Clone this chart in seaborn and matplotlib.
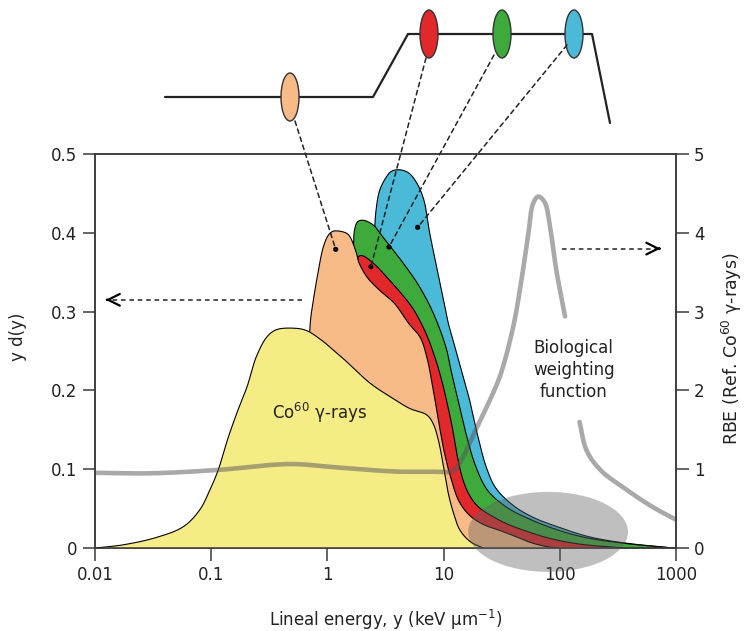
import numpy as np
import matplotlib
matplotlib.use("Agg")
import matplotlib.pyplot as plt
from matplotlib.patches import Ellipse, ConnectionPatch
from matplotlib.ticker import FixedLocator, FixedFormatter, NullLocator
import seaborn as sns

# ---- microdosimetric spectra: lineal energy y (keV/um) vs y d(y) ----
cobalt_y = [0.01, 0.0174, 0.0339, 0.0575, 0.0794, 0.0977, 0.115, 0.135, 0.166, 0.204,
            0.245, 0.302, 0.363, 0.513, 0.661, 0.923, 1.05, 1.38, 1.55, 2.34, 3.47,
            5.13, 7.16, 8.13, 9.02, 10.0, 11.0, 12.2, 13.8, 17.0, 21.9]
cobalt_d = [0.0, 0.004, 0.0135, 0.027, 0.048, 0.074, 0.099, 0.133, 0.171, 0.205,
            0.243, 0.268, 0.277, 0.279, 0.276, 0.262, 0.255, 0.240, 0.233, 0.209, 0.192,
            0.177, 0.169, 0.158, 0.137, 0.103, 0.069, 0.044, 0.023, 0.008, 0.0]

entrance_y = [0.692, 0.708, 0.759, 0.832, 0.923, 1.02, 1.12, 1.29, 1.48, 1.58, 1.66,
              1.78, 1.86, 2.19, 2.82, 3.80, 5.01, 6.31, 7.24, 7.94, 8.51, 9.33, 10.2,
              11.5, 13.5, 16.6, 21.9, 30.9, 42.7, 58.9, 83.2, 100.0]
entrance_d = [0.0, 0.28, 0.315, 0.35, 0.382, 0.397, 0.402, 0.402, 0.399, 0.394, 0.387,
              0.374, 0.363, 0.344, 0.327, 0.31, 0.285, 0.267, 0.24, 0.21, 0.185, 0.15, 0.12,
              0.09, 0.06, 0.042, 0.03, 0.022, 0.014, 0.006, 0.001, 0.0]

proximal_y = [1.795, 1.80, 1.86, 2.00, 2.51, 3.24, 4.27, 5.50, 7.08, 8.51, 9.55, 10.7,
              12.0, 13.2, 14.8, 17.0, 20.0, 25.1, 34.7, 52.5, 83.2, 148.0, 355.0]
proximal_d = [0.0, 0.36, 0.370, 0.371, 0.361, 0.344, 0.324, 0.303, 0.272, 0.24, 0.215,
              0.185, 0.15, 0.115, 0.085, 0.065, 0.052, 0.042, 0.031, 0.021, 0.012, 0.005, 0.0]

middle_y = [1.675, 1.68, 1.72, 1.82, 2.00, 2.24, 2.57, 2.82, 3.47, 4.47, 5.89, 7.59,
            9.33, 10.7, 11.5, 13.2, 15.8, 19.1, 24.0, 34.7, 52.5, 87.1, 158.0, 355.0, 955.0]
middle_d = [0.0, 0.385, 0.405, 0.414, 0.416, 0.414, 0.408, 0.40, 0.383, 0.362, 0.337,
            0.308, 0.277, 0.25, 0.228, 0.19, 0.142, 0.102, 0.073, 0.052, 0.038, 0.025,
            0.014, 0.006, 0.0]

distal_y = [2.535, 2.55, 2.63, 2.82, 3.16, 3.55, 4.17, 5.01, 5.89, 6.76, 7.59, 8.71,
            10.0, 11.0, 12.0, 14.1, 16.6, 19.5, 23.4, 28.2, 39.8, 58.9, 100.0, 182.0,
            380.0, 955.0]
distal_d = [0.0, 0.40, 0.43, 0.454, 0.469, 0.478, 0.48, 0.476, 0.463, 0.442, 0.40, 0.357,
            0.315, 0.285, 0.265, 0.228, 0.19, 0.145, 0.102, 0.076, 0.054, 0.039, 0.026,
            0.014, 0.006, 0.0]

# ---- biological weighting function (RBE, right axis) ----
rbe_y_low = [0.01, 0.0295, 0.112, 0.479, 1.05, 1.55, 3.98, 7.59, 11.4, 12.6, 14.8, 17.0,
             19.5, 25.1, 30.9, 39.8, 46.8, 53.7, 58.9, 65.3, 74.1, 83.2, 93.3, 111.0]
rbe_low = [0.955, 0.948, 0.99, 1.066, 1.03, 1.01, 0.97, 0.97, 0.97, 1.0, 1.16, 1.35,
           1.54, 1.88, 2.2, 2.81, 3.40, 3.99, 4.37, 4.46, 4.39, 4.04, 3.53, 2.94]
rbe_y_high = [148.0, 170.0, 224.0, 376.0, 631.0, 1000.0]
rbe_high = [1.60, 1.24, 0.99, 0.74, 0.52, 0.36]

# sampling points marked on the spectra
probe_y = [1.18, 2.37, 3.39, 5.98]
probe_d = [0.379, 0.357, 0.382, 0.407]

# ---- beam depth-dose sketch above the plot (figure pixel frame) ----
profile_px = [165, 373, 408, 592, 610]
profile_py = [97, 97, 34, 34, 123]
probe_mark_x = [290, 429, 502, 574]
probe_mark_y = [97, 34, 34, 34]
probe_link_x = [295, 426, 494, 567]
probe_link_y = [121, 58, 55, 45]

colors = {"cobalt": "#f6ec86", "entrance": "#f8ba87", "proximal": "#e1282b",
          "middle": "#3eaa3c", "distal": "#4bbad9"}
probe_colors = [colors["entrance"], colors["proximal"], colors["middle"], colors["distal"]]


def spline_path(xs, vs, yscale, per_seg=14):
    """Centripetal Catmull-Rom path through traced points (log-x plane)."""
    p = np.column_stack([np.log10(xs), np.asarray(vs, float) * yscale])
    p = np.vstack([2 * p[0] - p[1], p, 2 * p[-1] - p[-2]])
    out = []
    for i in range(1, len(p) - 2):
        p0, p1, p2, p3 = p[i - 1], p[i], p[i + 1], p[i + 2]
        t0 = 0.0
        t1 = t0 + max(np.linalg.norm(p1 - p0), 1e-6) ** 0.5
        t2 = t1 + max(np.linalg.norm(p2 - p1), 1e-6) ** 0.5
        t3 = t2 + max(np.linalg.norm(p3 - p2), 1e-6) ** 0.5
        for t in np.linspace(t1, t2, per_seg, endpoint=False):
            a1 = (t1 - t) / (t1 - t0) * p0 + (t - t0) / (t1 - t0) * p1
            a2 = (t2 - t) / (t2 - t1) * p1 + (t - t1) / (t2 - t1) * p2
            a3 = (t3 - t) / (t3 - t2) * p2 + (t - t2) / (t3 - t2) * p3
            b1 = (t2 - t) / (t2 - t0) * a1 + (t - t0) / (t2 - t0) * a2
            b2 = (t3 - t) / (t3 - t1) * a2 + (t - t1) / (t3 - t1) * a3
            out.append((t2 - t) / (t2 - t1) * b1 + (t - t1) / (t2 - t1) * b2)
    out.append(p[-2])
    out = np.array(out)
    return 10 ** out[:, 0], np.clip(out[:, 1] / yscale, 0, None)


sns.set_theme(style="ticks")
plt.rcParams["font.family"] = ["DejaVu Sans"]
plt.rcParams.update({
    "axes.edgecolor": "#3a3a3a", "axes.linewidth": 1.1,
    "xtick.color": "#3a3a3a", "ytick.color": "#3a3a3a",
    "xtick.labelcolor": "#222222", "ytick.labelcolor": "#222222",
    "font.size": 12,
})

fig = plt.figure(figsize=(7.46, 6.31), dpi=100)
ax = fig.add_axes([0.1273, 0.1315, 0.7788, 0.6244])
ax.set_xscale("log")
ax.set_xlim(0.01, 1000)
ax.set_ylim(0, 0.5)

spectra = [
    (distal_y, distal_d, colors["distal"], 1),
    (middle_y, middle_d, colors["middle"], 2),
    (proximal_y, proximal_d, colors["proximal"], 3),
    (entrance_y, entrance_d, colors["entrance"], 4),
    (cobalt_y, cobalt_d, colors["cobalt"], 5),
]
for xs, ds, col, z in spectra:
    sx, sd = spline_path(xs, ds, 6.78)
    ax.fill(np.r_[sx, sx[-1], sx[0]], np.r_[sd, 0, 0], facecolor=col,
            edgecolor="none", zorder=z)
    sns.lineplot(x=sx, y=sd, ax=ax, color="black", lw=0.8, zorder=z + 0.5,
                 estimator=None, sort=False)

sns.scatterplot(x=probe_y, y=probe_d, ax=ax, color="black", s=14, zorder=9,
                edgecolor="none")

ax.text(0.863, 0.171, "Co$^{60}$ γ-rays", ha="center", va="center", fontsize=12,
        color="#222222", zorder=10)

# dashed pointer arrows towards each axis
dash = (0, (3, 2.5))
ax.plot([0.604, 0.0128], [0.315, 0.315], ls=dash, color="#222222", lw=1.1, zorder=10)
ax.annotate("", xy=(0.0117, 0.315), xytext=(0.0135, 0.315),
            arrowprops=dict(arrowstyle="->,head_length=0.7,head_width=0.35",
                            color="black", lw=1.6), zorder=10)
ax.plot([103.8, 700], [0.38, 0.38], ls=dash, color="#222222", lw=1.1, zorder=10)
ax.annotate("", xy=(778, 0.38), xytext=(680, 0.38),
            arrowprops=dict(arrowstyle="->,head_length=0.7,head_width=0.35",
                            color="black", lw=1.6), zorder=10)

ax.xaxis.set_major_locator(FixedLocator([0.01, 0.1, 1, 10, 100, 1000]))
ax.xaxis.set_major_formatter(FixedFormatter(["0.01", "0.1", "1", "10", "100", "1000"]))
ax.xaxis.set_minor_locator(NullLocator())
ax.set_yticks([0, 0.1, 0.2, 0.3, 0.4, 0.5])
ax.set_yticklabels(["0", "0.1", "0.2", "0.3", "0.4", "0.5"])
ax.tick_params(axis="both", length=9, width=1.1, pad=4, labelsize=12)
ax.set_xlabel("Lineal energy, y (keV μm$^{-1}$)", fontsize=12, labelpad=17, color="#222222")
ax.set_ylabel("y d(y)", fontsize=12, color="#222222")
ax.yaxis.set_label_coords(-0.117, 0.535)

ax2 = ax.twinx()
ax2.set_ylim(0, 5)
ax2.set_yticks([0, 1, 2, 3, 4, 5])
ax2.set_yticklabels(["0", "1", "2", "3", "4", "5"])
ax2.tick_params(axis="y", length=9, width=1.1, pad=4, labelsize=12)
ax2.set_ylabel("RBE (Ref. Co$^{60}$ γ-rays)", fontsize=12.5, color="#222222")
ax2.yaxis.set_label_coords(1.076, 0.505)
for seg_y, seg_r in [(rbe_y_low, rbe_low), (rbe_y_high, rbe_high)]:
    gx, gr = spline_path(seg_y, seg_r, 0.678)
    sns.lineplot(x=gx, y=gr, ax=ax2, color="#555555", alpha=0.5, lw=3.3,
                 estimator=None, sort=False, solid_capstyle="round")
ax2.text(132, 2.26, "Biological\nweighting\nfunction", ha="center", va="center",
         fontsize=12, color="#222222", linespacing=1.3)
ax2.add_patch(Ellipse((0.78, 0.041), 0.275, 0.203, transform=ax2.transAxes,
                      facecolor="#606060", edgecolor="none", alpha=0.4,
                      clip_on=False, zorder=12))
ax2.set_xlim(0.01, 1000)

# depth-dose sketch with the sampled depths
sketch = fig.add_axes([0, 0, 1, 1], facecolor="none")
sketch.set_xlim(0, 746)
sketch.set_ylim(631, 0)
sketch.axis("off")
sketch.plot(profile_px, profile_py, color="#222222", lw=1.6)
for cx, cy, col in zip(probe_mark_x, probe_mark_y, probe_colors):
    sketch.add_patch(Ellipse((cx, cy), 18, 48, facecolor=col, edgecolor="#333333",
                             lw=1.0, zorder=3))
for lx, ly, py_, pd_ in zip(probe_link_x, probe_link_y, probe_y, probe_d):
    con = ConnectionPatch(xyA=(lx, ly), coordsA=sketch.transData,
                          xyB=(py_, pd_), coordsB=ax.transData,
                          linestyle=dash, lw=1.1, color="#222222", zorder=2)
    fig.add_artist(con)

fig.savefig("out.png", dpi=100)
